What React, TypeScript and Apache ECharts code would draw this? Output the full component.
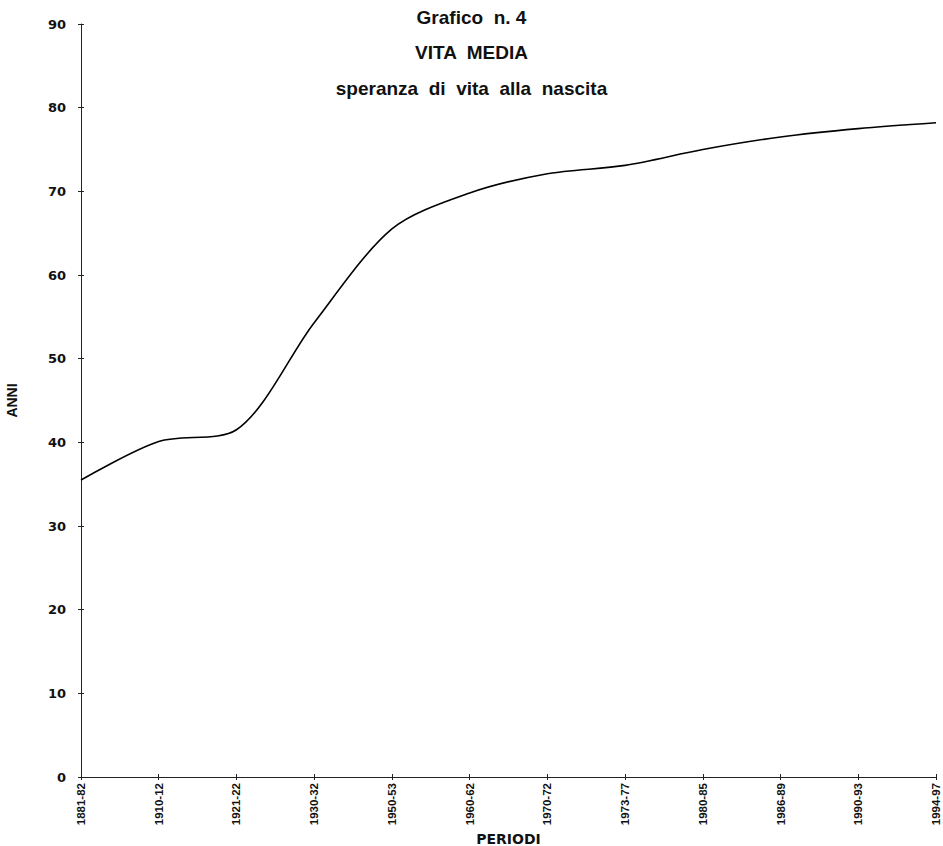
import React, { useEffect, useRef } from "react";
import * as echarts from "echarts";

const PERIODS = [
  "1881-82",
  "1910-12",
  "1921-22",
  "1930-32",
  "1950-53",
  "1960-62",
  "1970-72",
  "1973-77",
  "1980-85",
  "1986-89",
  "1990-93",
  "1994-97",
];

const LIFE_EXPECTANCY = [35.5, 40.1, 41.5, 54.3, 65.5, 69.8, 72.1, 73.1, 75.0, 76.5, 77.5, 78.2];

const TITLE_LINES = ["Grafico  n. 4", "VITA  MEDIA", "speranza  di  vita  alla  nascita"];

const Y_MIN = 0;
const Y_MAX = 90;
const Y_STEP = 10;

export default function App() {
  const ref = useRef<HTMLDivElement>(null);

  useEffect(() => {
    if (!ref.current) return;
    const chart = echarts.init(ref.current, undefined, { renderer: "svg" });
    const titleTops = [8, 43, 79];
    const axisColor = "#222";
    chart.setOption({
      animation: false,
      backgroundColor: "#fff",
      title: TITLE_LINES.map((t, i) => ({
        text: t,
        left: "center",
        top: titleTops[i],
        padding: 0,
        textStyle: {
          fontFamily: "'Liberation Sans', Arial, sans-serif",
          fontWeight: "bold",
          fontSize: 19,
          color: "#111",
        },
      })),
      grid: {
        left: 81,
        right: 7,
        top: 24,
        bottom: 69,
        containLabel: false,
        outerBoundsMode: "none",
      },
      xAxis: [
        {
          type: "category",
          data: PERIODS,
          boundaryGap: false,
          position: "bottom",
          axisLine: { show: true, lineStyle: { color: axisColor, width: 1 } },
          axisTick: { show: true, inside: false, length: 3, lineStyle: { color: axisColor } },
          axisLabel: {
            interval: 0,
            rotate: 90,
            margin: 6,
            fontSize: 11.5,
            fontWeight: "bold",
            fontFamily: "'Liberation Sans', Arial, sans-serif",
            color: "#111",
          },
          splitLine: { show: false },
          name: "PERIODI",
          nameLocation: "middle",
          nameGap: 55,
          nameMoveOverlap: false,
          nameTextStyle: {
            fontFamily: "'DejaVu Sans', sans-serif",
            fontWeight: "bold",
            fontSize: 14,
            color: "#111",
          },
        },
        {
          type: "category",
          data: PERIODS,
          boundaryGap: false,
          position: "bottom",
          offset: 0,
          axisLine: { show: false },
          axisTick: { show: true, inside: true, length: 3, lineStyle: { color: axisColor } },
          axisLabel: { show: false },
          splitLine: { show: false },
        },
      ],
      yAxis: [
        {
          type: "value",
          min: Y_MIN,
          max: Y_MAX,
          interval: Y_STEP,
          position: "left",
          axisLine: { show: true, lineStyle: { color: axisColor, width: 1 } },
          axisTick: { show: true, inside: false, length: 3, lineStyle: { color: axisColor } },
          axisLabel: {
            margin: 15,
            fontSize: 13,
            fontWeight: "bold",
            fontFamily: "'DejaVu Sans', sans-serif",
            color: "#111",
          },
          splitLine: { show: false },
          name: "ANNI",
          nameLocation: "middle",
          nameGap: 62,
          nameMoveOverlap: false,
          nameTextStyle: {
            fontFamily: "'Liberation Sans', Arial, sans-serif",
            fontWeight: "bold",
            fontSize: 14,
            color: "#111",
          },
        },
        {
          type: "value",
          min: Y_MIN,
          max: Y_MAX,
          interval: Y_STEP,
          position: "left",
          offset: 0,
          axisLine: { show: false },
          axisTick: { show: true, inside: true, length: 3, lineStyle: { color: axisColor } },
          axisLabel: { show: false },
          splitLine: { show: false },
        },
      ],
      series: [
        {
          type: "line",
          name: "Vita media",
          xAxisIndex: 0,
          yAxisIndex: 0,
          data: LIFE_EXPECTANCY,
          smooth: 0.3,
          symbol: "none",
          lineStyle: { color: "#000", width: 1.6 },
        },
      ],
    });
    return () => chart.dispose();
  }, []);

  return (
    <div
      ref={ref}
      style={{ position: "absolute", left: 0, top: 0, width: 943, height: 846, background: "#fff" }}
    />
  );
}
